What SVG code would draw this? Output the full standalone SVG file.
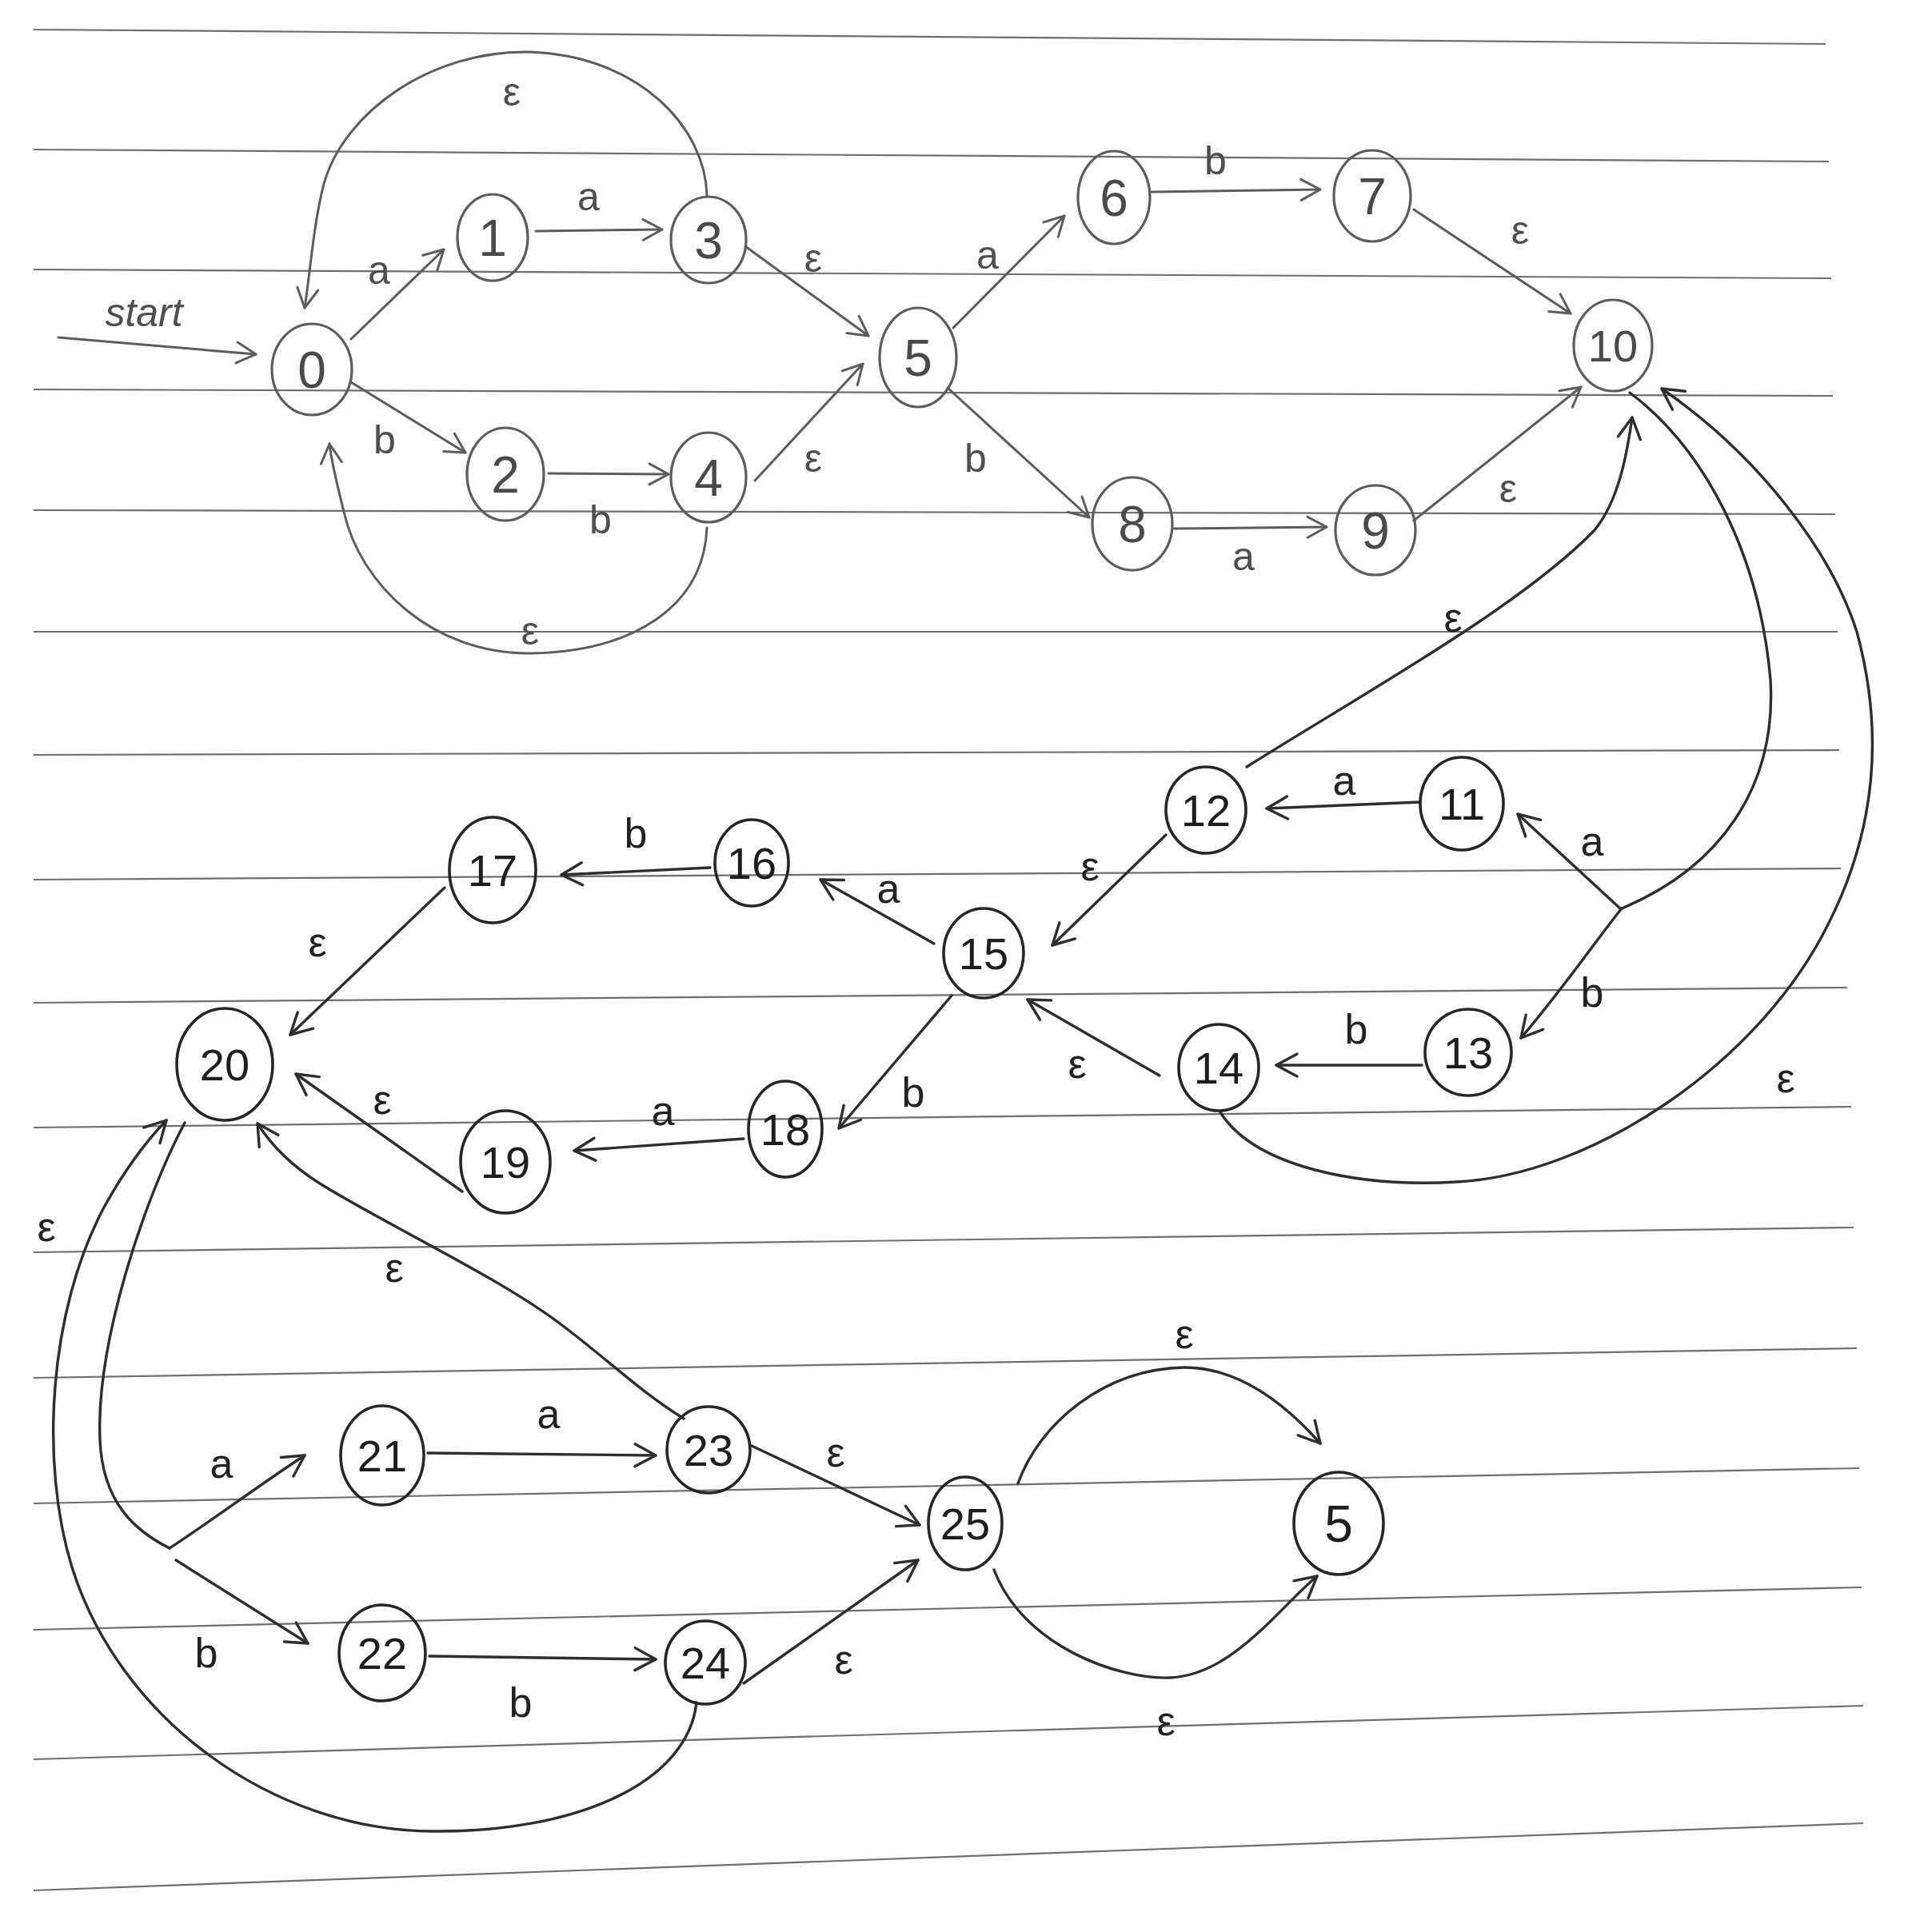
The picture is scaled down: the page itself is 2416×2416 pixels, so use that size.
<svg xmlns="http://www.w3.org/2000/svg" width="2416" height="2416" viewBox="0 0 2416 2416">
<defs>
<style>
.paper line{stroke:#6e6e6e;stroke-width:2.2}
.n1 ellipse{fill:none;stroke:#5c5c5c;stroke-width:3.2}
.n2 ellipse{fill:none;stroke:#262626;stroke-width:3.6}
.n1 text{fill:#4a4a4a}
.n2 text{fill:#1e1e1e}
text{font-family:"Liberation Sans","DejaVu Sans",sans-serif;text-anchor:middle}
.nl{font-size:64px}
.nl2{font-size:56px}
.lb1{font-size:50px;fill:#4e4e4e}
.lb2{font-size:52px;fill:#222}
.e1{fill:none;stroke:#5c5c5c;stroke-width:3;stroke-linecap:round;marker-end:url(#ah1)}
.e2{fill:none;stroke:#2e2e2e;stroke-width:3.4;stroke-linecap:round;marker-end:url(#ah2)}
.e2n{fill:none;stroke:#2e2e2e;stroke-width:3.4;stroke-linecap:round}
</style>
<marker id="ah1" viewBox="-30 -20 40 40" refX="0" refY="0" markerWidth="40" markerHeight="40" markerUnits="userSpaceOnUse" orient="auto" overflow="visible"><path d="M-24 -13 L0 0 L-24 13" fill="none" stroke="#5c5c5c" stroke-width="3" stroke-linecap="round" stroke-linejoin="round"/></marker>
<marker id="ah2" viewBox="-30 -20 40 40" refX="0" refY="0" markerWidth="40" markerHeight="40" markerUnits="userSpaceOnUse" orient="auto" overflow="visible"><path d="M-26 -14 L0 0 L-26 14" fill="none" stroke="#2e2e2e" stroke-width="3.4" stroke-linecap="round" stroke-linejoin="round"/></marker>
</defs>
<rect x="0" y="0" width="2416" height="2416" fill="#fdfdfd"/>
<g class="paper">
<line x1="42" y1="37" x2="2283" y2="55"/>
<line x1="42" y1="187" x2="2287" y2="202"/>
<line x1="42" y1="337" x2="2290" y2="348"/>
<line x1="42" y1="487" x2="2292" y2="495"/>
<line x1="42" y1="638" x2="2295" y2="643"/>
<line x1="42" y1="790" x2="2298" y2="790"/>
<line x1="42" y1="944" x2="2300" y2="938"/>
<line x1="42" y1="1100" x2="2302" y2="1086"/>
<line x1="42" y1="1254" x2="2310" y2="1235"/>
<line x1="42" y1="1410" x2="2315" y2="1384"/>
<line x1="42" y1="1566" x2="2318" y2="1535"/>
<line x1="42" y1="1723" x2="2322" y2="1686"/>
<line x1="42" y1="1880" x2="2325" y2="1836"/>
<line x1="42" y1="2038" x2="2328" y2="1985"/>
<line x1="42" y1="2200" x2="2330" y2="2133"/>
<line x1="42" y1="2364" x2="2330" y2="2280"/>
</g>
<g id="edges">
<path class="e1" d="M73 422 L320 443"/>
<path class="e1" d="M439 424 L555 312"/>
<path class="e1" d="M670 289 L828 287"/>
<path class="e1" d="M932 308 L1086 420"/>
<path class="e1" d="M439 478 L582 566"/>
<path class="e1" d="M686 592 L836 593"/>
<path class="e1" d="M944 601 L1079 455"/>
<path class="e1" d="M884 244 C882 160 800 70 663 65 C540 62 430 140 405 230 C392 280 388 340 381 385"/>
<path class="e1" d="M884 660 C880 760 790 815 663 817 C540 818 450 730 430 640 C420 600 414 575 412 555"/>
<path class="e1" d="M1192 410 L1331 270"/>
<path class="e1" d="M1440 240 L1651 237"/>
<path class="e1" d="M1768 262 L1964 392"/>
<path class="e1" d="M1185 485 L1362 647"/>
<path class="e1" d="M1468 661 L1659 659"/>
<path class="e1" d="M1768 651 L1977 484"/>
<path class="e2" d="M1559 959 C1700 870 1900 760 1994 663 C2025 625 2035 565 2041 522"/>
<path class="e2n" d="M2038 491 C2130 560 2200 690 2214 850 C2222 985 2150 1085 2028 1136"/>
<path class="e2" d="M2026 1136 L1898 1018"/>
<path class="e2" d="M2028 1136 C2000 1170 1960 1230 1902 1298"/>
<path class="e2" d="M1526 1391 C1570 1460 1700 1485 1821 1478 C1990 1470 2200 1330 2286 1156 C2340 1050 2360 930 2322 790 C2290 690 2200 570 2078 486"/>
<path class="e2" d="M1776 1003 L1584 1011"/>
<path class="e2" d="M1458 1044 L1316 1182"/>
<path class="e2" d="M1778 1332 L1596 1332"/>
<path class="e2" d="M1450 1345 L1285 1250"/>
<path class="e2" d="M1168 1180 L1026 1100"/>
<path class="e2" d="M888 1085 L702 1094"/>
<path class="e2" d="M1190 1245 L1049 1411"/>
<path class="e2" d="M930 1424 L718 1439"/>
<path class="e2" d="M556 1110 L363 1294"/>
<path class="e2" d="M578 1490 L370 1343"/>
<path class="e2" d="M855 1774 C800 1740 760 1700 700 1655 C620 1595 480 1530 400 1480 C360 1455 338 1430 322 1405"/>
<path class="e2" d="M871 2129 C860 2230 720 2292 539 2290 C340 2288 150 2150 90 1960 C50 1830 60 1640 131 1508 C155 1465 180 1430 208 1401"/>
<path class="e2n" d="M231 1404 C180 1500 120 1680 125 1800 C128 1880 170 1915 212 1936"/>
<path class="e2" d="M212 1936 C260 1905 320 1860 381 1820"/>
<path class="e2" d="M220 1951 L385 2055"/>
<path class="e2" d="M535 1817 L820 1820"/>
<path class="e2" d="M537 2071 L820 2075"/>
<path class="e2" d="M940 1808 L1150 1907"/>
<path class="e2" d="M930 2105 L1148 1951"/>
<path class="e2" d="M1273 1855 C1300 1780 1380 1712 1481 1710 C1560 1710 1620 1770 1651 1805"/>
<path class="e2" d="M1243 1963 C1280 2060 1400 2100 1462 2098 C1540 2096 1600 2010 1647 1971"/>
</g>
<g id="labels">
<text class="lb1" x="180" y="408" font-style="italic" font-size="58">start</text>
<text class="lb1" x="640" y="132">ε</text>
<text class="lb1" x="474" y="355">a</text>
<text class="lb1" x="736" y="263">a</text>
<text class="lb1" x="1017" y="340">ε</text>
<text class="lb1" x="481" y="567">b</text>
<text class="lb1" x="751" y="667">b</text>
<text class="lb1" x="1017" y="590">ε</text>
<text class="lb1" x="663" y="806">ε</text>
<text class="lb1" x="1235" y="336">a</text>
<text class="lb1" x="1520" y="218">b</text>
<text class="lb1" x="1901" y="305">ε</text>
<text class="lb1" x="1220" y="590">b</text>
<text class="lb1" x="1555" y="713">a</text>
<text class="lb1" x="1886" y="628">ε</text>
<text class="lb2" x="1817" y="790">ε</text>
<text class="lb2" x="2233" y="1366">ε</text>
<text class="lb2" x="1681" y="994">a</text>
<text class="lb2" x="1991" y="1070">a</text>
<text class="lb2" x="1991" y="1259">b</text>
<text class="lb2" x="1696" y="1305">b</text>
<text class="lb2" x="1363" y="1101">ε</text>
<text class="lb2" x="1347" y="1348">ε</text>
<text class="lb2" x="1111" y="1129">a</text>
<text class="lb2" x="795" y="1060">b</text>
<text class="lb2" x="1142" y="1384">b</text>
<text class="lb2" x="829" y="1407">a</text>
<text class="lb2" x="397" y="1196" font-size="62">ε</text>
<text class="lb2" x="478" y="1393" font-size="60">ε</text>
<text class="lb2" x="493" y="1603" font-size="62">ε</text>
<text class="lb2" x="58" y="1552" font-size="64">ε</text>
<text class="lb2" x="277" y="1848" font-size="58">a</text>
<text class="lb2" x="686" y="1786" font-size="56">a</text>
<text class="lb2" x="258" y="2085" font-size="58">b</text>
<text class="lb2" x="651" y="2147" font-size="58">b</text>
<text class="lb2" x="1045" y="1834" font-size="54">ε</text>
<text class="lb2" x="1055" y="2093" font-size="56">ε</text>
<text class="lb2" x="1481" y="1686" font-size="54">ε</text>
<text class="lb2" x="1458" y="2170" font-size="58">ε</text>
</g>
<g id="n0" class="n1"><ellipse cx="390" cy="462" rx="50" ry="57"/><text class="nl" x="390" y="485">0</text></g>
<g id="n1" class="n1"><ellipse cx="616" cy="297" rx="44" ry="54"/><text class="nl" x="616" y="320">1</text></g>
<g id="n3" class="n1"><ellipse cx="886" cy="300" rx="47" ry="54"/><text class="nl" x="886" y="323">3</text></g>
<g id="n2" class="n1"><ellipse cx="632" cy="593" rx="48" ry="58"/><text class="nl" x="632" y="616">2</text></g>
<g id="n4" class="n1"><ellipse cx="886" cy="597" rx="47" ry="56"/><text class="nl" x="886" y="620">4</text></g>
<g id="n5" class="n1"><ellipse cx="1148" cy="447" rx="48" ry="62"/><text class="nl" x="1148" y="470">5</text></g>
<g id="n6" class="n1"><ellipse cx="1393" cy="247" rx="45" ry="58"/><text class="nl" x="1393" y="270">6</text></g>
<g id="n7" class="n1"><ellipse cx="1716" cy="245" rx="48" ry="57"/><text class="nl" x="1716" y="268">7</text></g>
<g id="n8" class="n1"><ellipse cx="1416" cy="655" rx="50" ry="58"/><text class="nl" x="1416" y="678">8</text></g>
<g id="n9" class="n1"><ellipse cx="1720" cy="663" rx="50" ry="56"/><text class="nl" x="1720" y="686">9</text></g>
<g id="n10" class="n1"><ellipse cx="2017" cy="432" rx="49" ry="57"/><text class="nl2" x="2017" y="452">10</text></g>
<g id="n11" class="n2"><ellipse cx="1828" cy="1005" rx="52" ry="58"/><text class="nl2" x="1828" y="1025">11</text></g>
<g id="n12" class="n2"><ellipse cx="1508" cy="1013" rx="50" ry="54"/><text class="nl2" x="1508" y="1033">12</text></g>
<g id="n13" class="n2"><ellipse cx="1836" cy="1316" rx="54" ry="54"/><text class="nl2" x="1836" y="1336">13</text></g>
<g id="n14" class="n2"><ellipse cx="1524" cy="1335" rx="50" ry="54"/><text class="nl2" x="1524" y="1355">14</text></g>
<g id="n15" class="n2"><ellipse cx="1230" cy="1192" rx="50" ry="56"/><text class="nl2" x="1230" y="1212">15</text></g>
<g id="n16" class="n2"><ellipse cx="940" cy="1079" rx="46" ry="54"/><text class="nl2" x="940" y="1099">16</text></g>
<g id="n17" class="n2"><ellipse cx="616" cy="1088" rx="54" ry="66"/><text class="nl2" x="616" y="1108">17</text></g>
<g id="n18" class="n2"><ellipse cx="982" cy="1412" rx="46" ry="60"/><text class="nl2" x="982" y="1432">18</text></g>
<g id="n19" class="n2"><ellipse cx="632" cy="1453" rx="56" ry="64"/><text class="nl2" x="632" y="1473">19</text></g>
<g id="n20" class="n2"><ellipse cx="281" cy="1331" rx="60" ry="70"/><text class="nl2" x="281" y="1351">20</text></g>
<g id="n21" class="n2"><ellipse cx="478" cy="1820" rx="52" ry="62"/><text class="nl2" x="478" y="1840">21</text></g>
<g id="n23" class="n2"><ellipse cx="886" cy="1813" rx="52" ry="54"/><text class="nl2" x="886" y="1833">23</text></g>
<g id="n22" class="n2"><ellipse cx="478" cy="2067" rx="54" ry="60"/><text class="nl2" x="478" y="2087">22</text></g>
<g id="n24" class="n2"><ellipse cx="882" cy="2079" rx="50" ry="52"/><text class="nl2" x="882" y="2099">24</text></g>
<g id="n25" class="n2"><ellipse cx="1207" cy="1905" rx="46" ry="58"/><text class="nl2" x="1207" y="1925">25</text></g>
<g id="n5f" class="n2"><ellipse cx="1674" cy="1905" rx="56" ry="64"/><text class="nl" x="1674" y="1928">5</text></g>
</svg>
